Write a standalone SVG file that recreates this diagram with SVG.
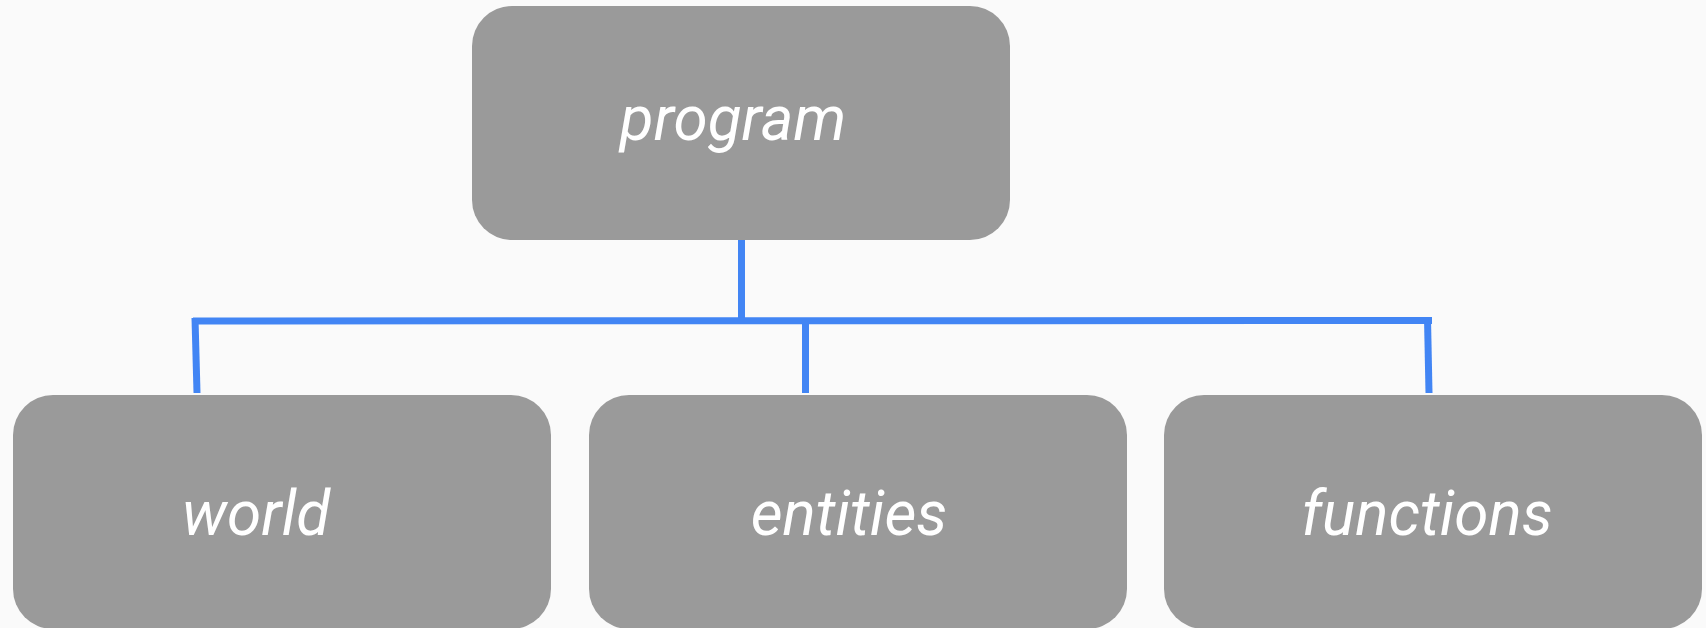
<svg xmlns="http://www.w3.org/2000/svg" width="1706" height="628" viewBox="0 0 1706 628">
<style>
.node rect{fill:#9a9a9a}
.node text{fill:#ffffff;font-family:Roboto,"Liberation Sans",sans-serif;font-style:italic;font-size:62px;text-anchor:middle}
.conn line{stroke:#4285f4;stroke-width:7;fill:none}
</style>
<rect width="1706" height="628" fill="#fafafa"/>
<g id="connectors" class="conn">
<line x1="741.5" y1="240" x2="741.5" y2="321"/>
<line x1="193" y1="321" x2="1432" y2="320.5"/>
<line x1="195" y1="318" x2="197" y2="393"/>
<line x1="805.5" y1="321" x2="805.5" y2="393"/>
<line x1="1427.5" y1="318" x2="1429" y2="393"/>
</g>
<g id="node-program" class="node">
<rect x="472" y="6" width="538" height="234" rx="40"/>
<text x="733" y="140">program</text>
</g>
<g id="node-world" class="node">
<rect x="13" y="395" width="538" height="234" rx="40"/>
<text x="256" y="535">world</text>
</g>
<g id="node-entities" class="node">
<rect x="589" y="395" width="538" height="234" rx="40"/>
<text x="849" y="535">entities</text>
</g>
<g id="node-functions" class="node">
<rect x="1164" y="395" width="538" height="234" rx="40"/>
<text x="1427" y="535">functions</text>
</g>
</svg>
